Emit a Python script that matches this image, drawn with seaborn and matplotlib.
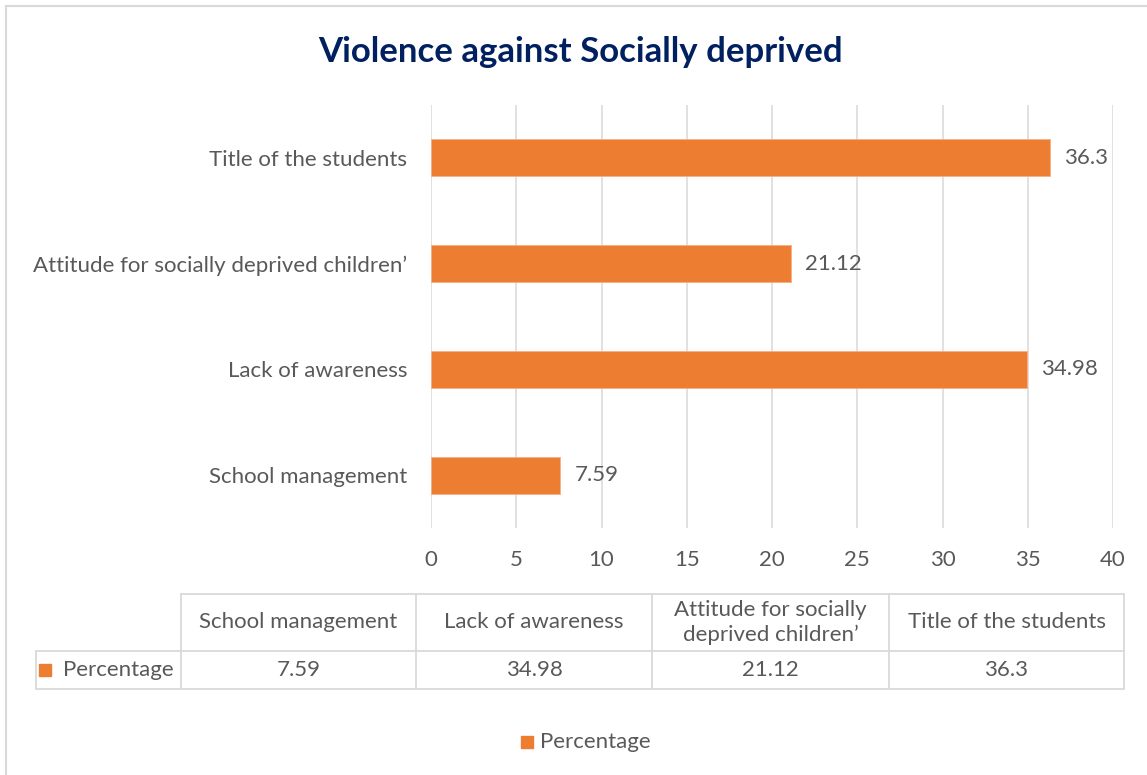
import matplotlib
matplotlib.use("Agg")
import matplotlib.pyplot as plt
import seaborn as sns
import pandas as pd
from matplotlib.patches import Rectangle
from matplotlib.lines import Line2D

# ------- DATA ---------
categories = ["School management", "Lack of awareness",
              "Attitude for socially deprived children\u2019", "Title of the students"]
table_headers = ["School management", "Lack of awareness",
                 "Attitude for socially\ndeprived children\u2019", "Title of the students"]
percentage = [7.59, 34.98, 21.12, 36.3]
series_name = "Percentage"
x_ticks = [0, 5, 10, 15, 20, 25, 30, 35, 40]
title = "Violence against Socially deprived"

ORANGE = "#ED7D31"
TEXT = "#595959"
GRID = "#D9D9D9"
NAVY = "#002060"
FS = 16

sns.set_theme(style="white")
plt.rcParams["font.family"] = ["Lato", "DejaVu Sans"]

W, H = 1147, 775
fig = plt.figure(figsize=(W / 100, H / 100), dpi=100)


def px(x0, y0, x1, y1):
    """pixel box (top-left origin) -> figure fraction rect"""
    return [x0 / W, 1 - y1 / H, (x1 - x0) / W, (y1 - y0) / H]


# ------- BAR CHART ---------
ax = fig.add_axes(px(431, 105, 1113, 528))
df = pd.DataFrame({"category": categories, "value": percentage})
sns.barplot(data=df, x="value", y="category", order=categories[::-1],
            color=ORANGE, saturation=1, width=0.35, orient="h", ax=ax,
            edgecolor="#F4B183", linewidth=0.6)
ax.set_xlim(0, 40)
ax.set_xticks(x_ticks)
ax.set_xlabel("")
ax.set_ylabel("")
ax.grid(axis="x", color=GRID, linewidth=1.1)
ax.grid(axis="y", visible=False)
ax.set_axisbelow(True)
for s in ax.spines.values():
    s.set_visible(False)
ax.tick_params(axis="x", length=0, pad=16, labelsize=FS, labelcolor=TEXT)
ax.tick_params(axis="y", length=0, pad=17, labelsize=FS, labelcolor=TEXT)
for c in ax.containers:
    ax.bar_label(c, fmt="{:g}", padding=10, fontsize=FS, color=TEXT)

fig.text(580 / W, 1 - 52 / H, title, ha="center", va="center",
         fontsize=25, fontweight="bold", color=NAVY)

# ------- DATA TABLE ---------
tax = fig.add_axes([0, 0, 1, 1])
tax.set_xlim(0, W)
tax.set_ylim(H, 0)
tax.axis("off")
cols = [36, 181, 416, 652, 889, 1124]
y_top, y_mid, y_bot = 594, 651, 689
lw = 1.3
tax.add_line(Line2D([cols[1], cols[-1]], [y_top, y_top], color=GRID, lw=lw))
for y in (y_mid, y_bot):
    tax.add_line(Line2D([cols[0], cols[-1]], [y, y], color=GRID, lw=lw))
tax.add_line(Line2D([cols[0], cols[0]], [y_mid, y_bot], color=GRID, lw=lw))
for x in cols[1:]:
    tax.add_line(Line2D([x, x], [y_top, y_bot], color=GRID, lw=lw))
for i, (hdr, val) in enumerate(zip(table_headers, percentage)):
    cx = (cols[i + 1] + cols[i + 2]) / 2
    tax.text(cx, (y_top + y_mid) / 2, hdr, ha="center", va="center",
             fontsize=FS, color=TEXT, linespacing=1.3)
    tax.text(cx, (y_mid + y_bot) / 2, f"{val:g}", ha="center", va="center",
             fontsize=FS, color=TEXT)
tax.add_patch(Rectangle((39, 664), 12, 12, color=ORANGE))
tax.text(63, (y_mid + y_bot) / 2, series_name, ha="left", va="center",
         fontsize=FS, color=TEXT)

# ------- LEGEND ---------
tax.add_patch(Rectangle((521, 736), 12, 12, color=ORANGE))
tax.text(540, 742, series_name, ha="left", va="center", fontsize=FS, color=TEXT)

# ------- OUTER BORDER ---------
tax.add_line(Line2D([6, W + 5], [6, 6], color=GRID, lw=1.5))
tax.add_line(Line2D([6, 6], [6, H + 5], color=GRID, lw=1.5))

fig.savefig("out.png", dpi=100)
